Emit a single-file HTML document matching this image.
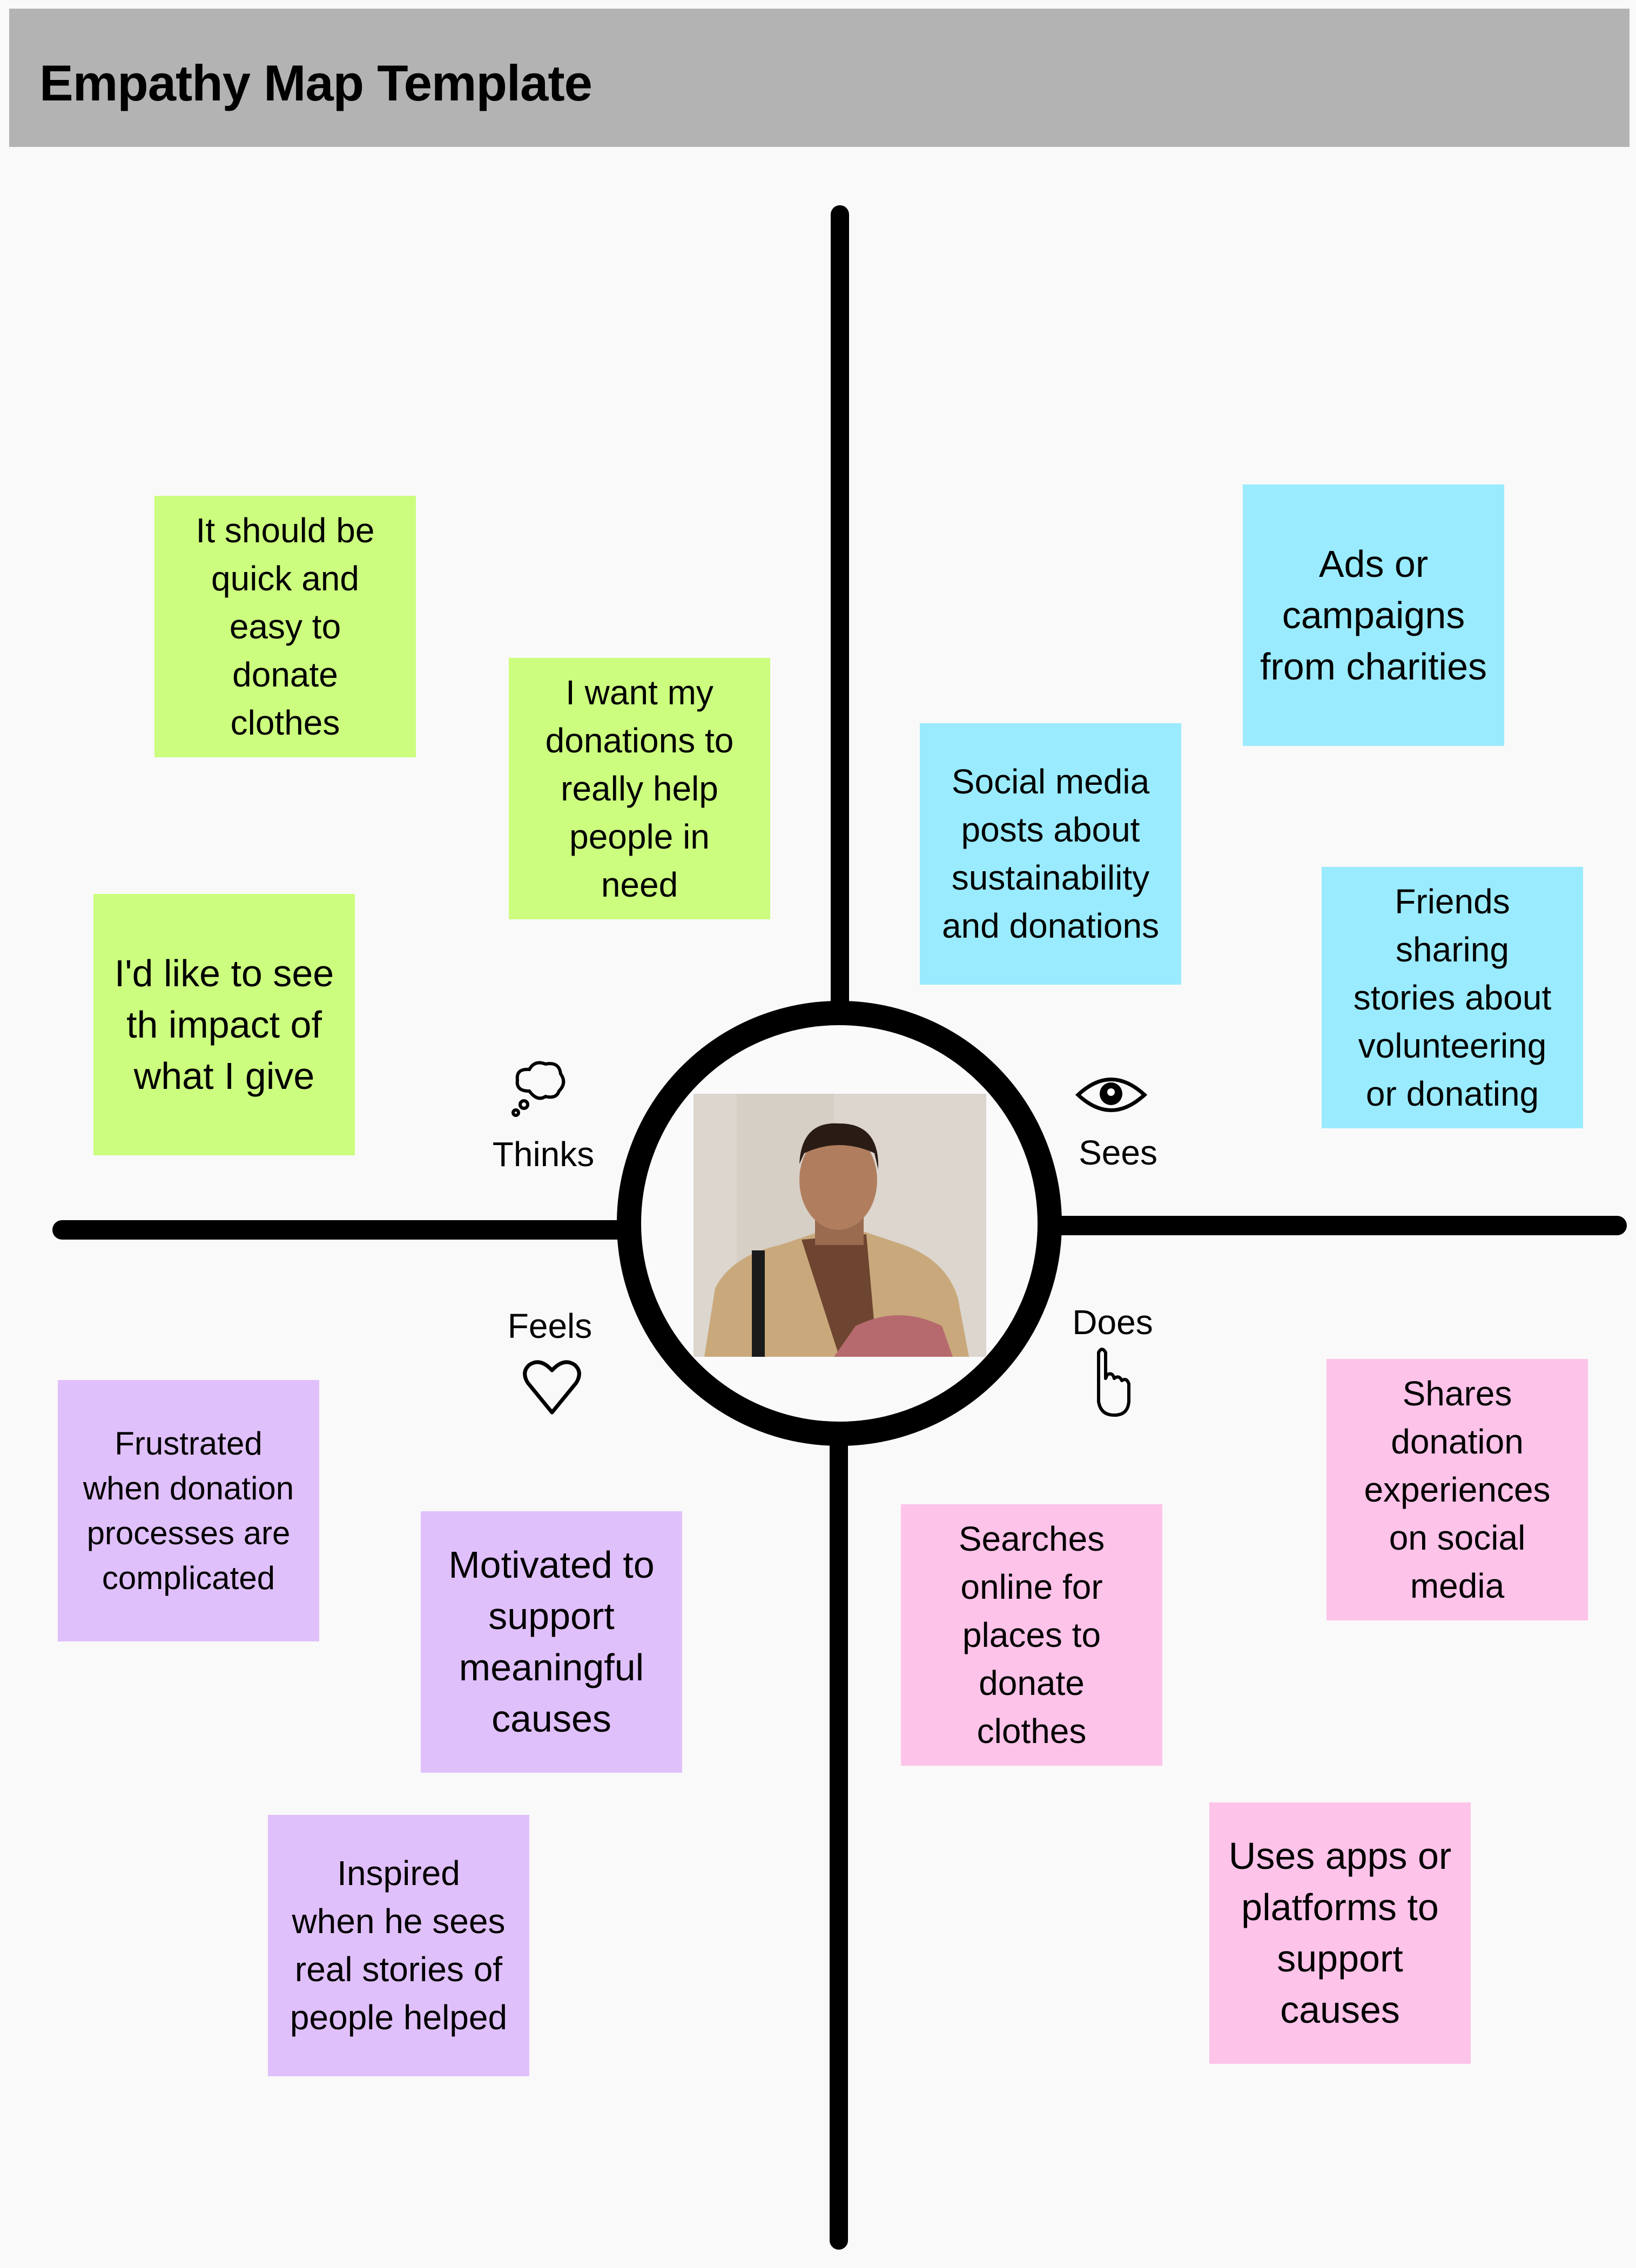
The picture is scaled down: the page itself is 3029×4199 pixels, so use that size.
<!DOCTYPE html>
<html><head><meta charset="utf-8"><style>
html,body{margin:0;padding:0}
body{width:3029px;height:4199px;background:#f9f9f9;position:relative;overflow:hidden;font-family:"Liberation Sans",sans-serif;color:#000}
.hdr{position:absolute;left:17px;top:16px;width:3000px;height:256px;background:#b3b3b3}
.hdr span{position:absolute;left:56px;top:84px;font-size:94px;font-weight:bold;letter-spacing:-1px}
.ln{position:absolute;background:#000;border-radius:18px}
.n{position:absolute;width:484px;height:484px;display:flex;align-items:center;justify-content:center;text-align:center;font-size:64px;line-height:89px}
.g{background:#ccfd7e}.b{background:#9aebfd}.p{background:#e0c0fa}.k{background:#fec3e9}
.big{font-size:70px;line-height:95px}
.sm{font-size:60px;line-height:83px}
.lb{position:absolute;font-size:64px;transform:translate(-50%,-50%);white-space:nowrap}
svg{position:absolute}
</style></head><body>
<div class="hdr"><span>Empathy Map Template</span></div>

<div class="ln" style="left:1538px;top:380px;width:34px;height:1500px"></div>
<div class="ln" style="left:1536px;top:2650px;width:34px;height:1515px"></div>
<div class="ln" style="left:97px;top:2259px;width:1080px;height:36px"></div>
<div class="ln" style="left:1930px;top:2251px;width:1082px;height:36px"></div>
<div style="position:absolute;left:1142px;top:1853px;width:734px;height:734px;border:45px solid #000;border-radius:50%;background:#fafafa"></div>

<svg style="left:1284px;top:2025px" width="542" height="487" viewBox="0 0 542 487">
<rect width="542" height="487" fill="#dcd6ce"/>
<rect x="80" width="180" height="487" fill="#d6cfc6"/>
<path d="M20 487 L40 360 Q70 300 160 280 L250 250 L300 250 L390 280 Q470 310 490 380 L510 487Z" fill="#c9a97c"/>
<path d="M200 270 L270 487 L340 487 L320 260Z" fill="#6d4530"/>
<rect x="108" y="290" width="24" height="197" fill="#1a1a1a"/>
<rect x="225" y="220" width="90" height="60" fill="#9a6b4f"/>
<ellipse cx="268" cy="160" rx="72" ry="92" fill="#b07e5f"/>
<path d="M196 130 Q200 50 270 55 Q345 55 342 140 L335 110 Q270 80 205 110Z" fill="#2a1c15"/>
<path d="M300 430 Q380 390 460 430 L480 487 L260 487Z" fill="#b66a6e"/>
</svg>

<div class="n g" style="left:286px;top:918px">It should be<br>quick and<br>easy to<br>donate<br>clothes</div>
<div class="n g" style="left:942px;top:1218px">I want my<br>donations to<br>really help<br>people in<br>need</div>
<div class="n g big" style="left:173px;top:1655px">I'd like to see<br>th impact of<br>what I give</div>
<div class="n b big" style="left:2301px;top:897px">Ads or<br>campaigns<br>from charities</div>
<div class="n b" style="left:1703px;top:1339px">Social media<br>posts about<br>sustainability<br>and donations</div>
<div class="n b" style="left:2447px;top:1605px">Friends<br>sharing<br>stories about<br>volunteering<br>or donating</div>
<div class="n p sm" style="left:107px;top:2555px">Frustrated<br>when donation<br>processes are<br>complicated</div>
<div class="n p big" style="left:779px;top:2798px">Motivated to<br>support<br>meaningful<br>causes</div>
<div class="n p" style="left:496px;top:3360px">Inspired<br>when he sees<br>real stories of<br>people helped</div>
<div class="n k" style="left:2456px;top:2516px">Shares<br>donation<br>experiences<br>on social<br>media</div>
<div class="n k" style="left:1668px;top:2785px">Searches<br>online for<br>places to<br>donate<br>clothes</div>
<div class="n k big" style="left:2239px;top:3337px">Uses apps or<br>platforms to<br>support<br>causes</div>

<div class="lb" style="left:1006px;top:2137px">Thinks</div>
<div class="lb" style="left:2070px;top:2134px">Sees</div>
<div class="lb" style="left:1018px;top:2455px">Feels</div>
<div class="lb" style="left:2060px;top:2448px">Does</div>

<svg style="left:940px;top:1960px" width="120" height="115" viewBox="0 0 120 115"><g fill="none" stroke="#000" stroke-width="6">
<path d="M40 60 Q15 60 18 40 Q15 18 40 20 Q50 2 70 10 Q95 5 98 28 Q110 45 95 60 Q90 75 70 70 Q55 80 40 60Z"/>
<circle cx="30" cy="85" r="7"/><circle cx="15" cy="100" r="5"/></g></svg>
<svg style="left:1990px;top:1990px" width="135" height="75" viewBox="0 0 135 75"><path d="M6 37 Q67 -20 129 37 Q67 94 6 37Z" fill="none" stroke="#000" stroke-width="7"/><circle cx="67" cy="35" r="21" fill="#000"/><circle cx="67" cy="32" r="7" fill="#fff"/></svg>
<svg style="left:965px;top:2515px" width="115" height="105" viewBox="0 0 115 105"><path d="M57 100 L12 45 Q0 25 15 12 Q35 -2 57 22 Q79 -2 99 12 Q114 25 102 45Z" fill="none" stroke="#000" stroke-width="7" stroke-linejoin="round"/></svg>
<svg style="left:2020px;top:2490px" width="85" height="135" viewBox="0 0 85 135"><path d="M14 75 L14 14 Q20 2 27 14 L27 62 L30 55 Q40 50 43 62 Q52 55 57 66 Q66 60 70 72 L70 105 Q68 130 43 130 Q18 130 14 105Z" fill="none" stroke="#000" stroke-width="6" stroke-linejoin="round"/></svg>
</body></html>
